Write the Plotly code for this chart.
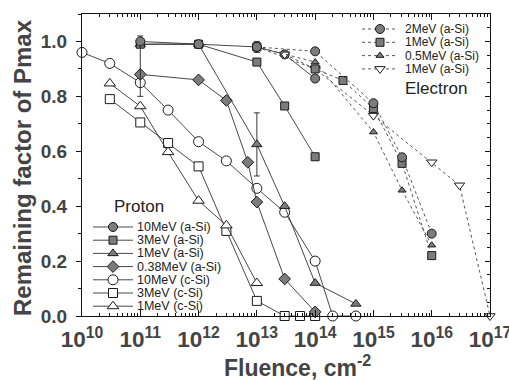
import plotly.graph_objects as go

# ---- Proton irradiation (solid lines) ----
p10_asi_x = [1e11, 1e12, 1e13, 3e13, 1e14]
p10_asi_y = [1.0, 0.99, 0.98, 0.953, 0.865]
p10_asi_ep = [0.02, 0, 0.02, 0, 0]
p10_asi_em = [0.20, 0, 0.02, 0, 0]

p3_asi_x = [1e11, 1e12, 1e13, 3e13, 1e14]
p3_asi_y = [0.99, 0.99, 0.925, 0.765, 0.58]

p1_asi_x = [1e11, 1e12, 1e13, 3e13, 1e14, 5e14]
p1_asi_y = [0.99, 0.99, 0.625, 0.40, 0.12, 0.044]
p1_asi_err = [0, 0, 0.115, 0, 0, 0]

p038_asi_x = [1e11, 1e12, 3e12, 7e12, 1e13, 3e13, 1e14]
p038_asi_y = [0.88, 0.86, 0.785, 0.56, 0.415, 0.135, 0.015]

p10_csi_x = [1e10, 3e10, 1e11, 3e11, 1e12, 3e12, 1e13, 3e13, 1e14, 2e14, 5e14]
p10_csi_y = [0.96, 0.92, 0.85, 0.75, 0.635, 0.565, 0.465, 0.378, 0.20, 0.0, 0.0]

p3_csi_x = [3e10, 1e11, 3e11, 1e12, 3e12, 1e13, 3e13, 5.5e13, 1e14]
p3_csi_y = [0.79, 0.705, 0.63, 0.545, 0.31, 0.055, 0.0, 0.0, 0.0]

p1_csi_x = [3e10, 1e11, 3e11, 1e12, 3e12, 1e13]
p1_csi_y = [0.847, 0.764, 0.597, 0.42, 0.33, 0.12]

# ---- Electron irradiation (dashed lines) ----
e2_x = [1e13, 1e14, 1e15, 3.1e15, 1e16]
e2_y = [0.98, 0.964, 0.775, 0.578, 0.30]

e1_x = [1e13, 1e14, 3e14, 1e15, 3.1e15, 1e16]
e1_y = [0.98, 0.90, 0.858, 0.756, 0.556, 0.22]

e05_x = [1e13, 1e14, 1e15, 3.1e15, 1e16]
e05_y = [0.98, 0.925, 0.67, 0.458, 0.258]

e1b_x = [3e13, 1e14, 1e15, 1e16, 3e16, 1e17]
e1b_y = [0.953, 0.90, 0.73, 0.56, 0.476, 0.0]

proton_labels = ["10MeV (a-Si)", "3MeV (a-Si)", "1MeV (a-Si)", "0.38MeV (a-Si)",
                 "10MeV (c-Si)", "3MeV (c-Si)", "1MeV (c-Si)"]
electron_labels = ["2MeV (a-Si)", "1MeV (a-Si)", "0.5MeV (a-Si)", "1MeV (a-Si)"]

FONT = "Arial, Liberation Sans, sans-serif"
LINE = "#333333"
HATCH = "#7c7c7c"

styles_p = [
    dict(symbol="circle", color=HATCH, size=9),
    dict(symbol="square", color=HATCH, size=8),
    dict(symbol="triangle-up", color=HATCH, size=9),
    dict(symbol="diamond", color=HATCH, size=9),
    dict(symbol="circle-open", color="white", size=10),
    dict(symbol="square-open", color="white", size=9),
    dict(symbol="triangle-up-open", color="white", size=10),
]
styles_e = [
    dict(symbol="circle", color=HATCH, size=9),
    dict(symbol="square", color=HATCH, size=8),
    dict(symbol="triangle-up", color=HATCH, size=7),
    dict(symbol="triangle-down-open", color="white", size=9),
]


def mk(st):
    sym = st["symbol"].replace("-open", "")
    return dict(symbol=sym, size=st["size"], color=st["color"],
                line=dict(color="#1a1a1a", width=1))


fig = go.Figure()

proton = [
    (p10_csi_x, p10_csi_y, 4, None),
    (p3_csi_x, p3_csi_y, 5, None),
    (p1_csi_x, p1_csi_y, 6, None),
    (p038_asi_x, p038_asi_y, 3, None),
    (p1_asi_x, p1_asi_y, 2, dict(type="data", array=p1_asi_err, visible=True)),
    (p3_asi_x, p3_asi_y, 1, None),
    (p10_asi_x, p10_asi_y, 0, dict(type="data", array=p10_asi_ep,
                                   arrayminus=p10_asi_em, symmetric=False, visible=True)),
]
for xs, ys, k, err in proton:
    tr = go.Scatter(x=xs, y=ys, mode="lines+markers", name=proton_labels[k],
                    line=dict(color=LINE, width=0.9), marker=mk(styles_p[k]),
                    showlegend=False, cliponaxis=False)
    if err is not None:
        err.update(color="#222", thickness=0.9, width=3)
        tr.error_y = err
    fig.add_trace(tr)

electron = [(e1b_x, e1b_y, 3), (e05_x, e05_y, 2), (e1_x, e1_y, 1), (e2_x, e2_y, 0)]
for xs, ys, k in electron:
    fig.add_trace(go.Scatter(x=xs, y=ys, mode="lines+markers", name=electron_labels[k],
                             line=dict(color="#444", width=0.9, dash="3px,3px"),
                             marker=mk(styles_e[k]), showlegend=False, cliponaxis=False))

# right-hand frame with its own inward ticks
fig.add_trace(go.Scatter(x=[1e10], y=[0], yaxis="y2", mode="markers",
                         marker=dict(opacity=0), showlegend=False, hoverinfo="skip"))

# ---- in-plot legends (drawn in plot-fraction coordinates) ----
p_rows = [227, 240.2, 253.4, 266.6, 279.8, 293, 306.2]
e_rows = [29, 42.3, 55.6, 68.9]


def fx(px):
    return (px - 82) / 408


def fy(py):
    return (316 - py) / 302


annotations = []
for i, lab in enumerate(proton_labels):
    yy = fy(p_rows[i])
    fig.add_trace(go.Scatter(x=[fx(93), fx(133)], y=[yy, yy], xaxis="x3", yaxis="y3",
                             mode="lines", line=dict(color=LINE, width=0.9),
                             showlegend=False, hoverinfo="skip"))
    fig.add_trace(go.Scatter(x=[fx(113)], y=[yy], xaxis="x3", yaxis="y3", mode="markers",
                             marker=mk(styles_p[i]), showlegend=False, hoverinfo="skip"))
    annotations.append(dict(x=fx(135), y=yy, xref="paper", yref="paper", text=lab,
                            showarrow=False, xanchor="left", yanchor="middle",
                            font=dict(family=FONT, size=12.5, color="#222")))
for i, lab in enumerate(electron_labels):
    yy = fy(e_rows[i])
    fig.add_trace(go.Scatter(x=[fx(362), fx(397)], y=[yy, yy], xaxis="x3", yaxis="y3",
                             mode="lines", line=dict(color="#444", width=0.9, dash="3px,3px"),
                             showlegend=False, hoverinfo="skip"))
    fig.add_trace(go.Scatter(x=[fx(380)], y=[yy], xaxis="x3", yaxis="y3", mode="markers",
                             marker=mk(styles_e[i]), showlegend=False, hoverinfo="skip"))
    annotations.append(dict(x=fx(403), y=yy, xref="paper", yref="paper", text=lab,
                            showarrow=False, xanchor="left", yanchor="middle",
                            font=dict(family=FONT, size=12, color="#222")))

annotations += [
    dict(x=fx(112), y=fy(206), xref="paper", yref="paper", text="Proton",
         showarrow=False, xanchor="left", yanchor="middle",
         font=dict(family=FONT, size=17, color="#222")),
    dict(x=fx(403), y=fy(88), xref="paper", yref="paper", text="Electron",
         showarrow=False, xanchor="left", yanchor="middle",
         font=dict(family=FONT, size=17, color="#222")),
    dict(x=fx(23), y=fy(168), xref="paper", yref="paper", text="<b>Remaining factor of Pmax</b>",
         showarrow=False, textangle=-90, xanchor="center", yanchor="middle",
         font=dict(family=FONT, size=24, color="#444")),
    dict(x=fx(297), y=fy(366), xref="paper", yref="paper",
         text="<b>Fluence, cm<sup>-2</sup></b>",
         showarrow=False, xanchor="center", yanchor="middle",
         font=dict(family=FONT, size=23, color="#444")),
]

axis_common = dict(showline=True, linecolor="#111", linewidth=1.2, showgrid=False,
                   zeroline=False, tickcolor="#111", automargin=False)
fig.update_layout(
    width=509, height=380,
    margin=dict(l=82, r=19, t=14, b=64),
    paper_bgcolor="white", plot_bgcolor="white",
    font=dict(family=FONT, color="#444"),
    xaxis=dict(type="log", range=[10, 17], dtick=1, exponentformat="power",
               ticks="inside", ticklen=6, mirror="ticks", ticklabelstandoff=4,
               ticklabeloverflow="allow",
               minor=dict(ticks="inside", ticklen=3, dtick="D1", tickcolor="#111"),
               tickfont=dict(family=FONT, size=18, color="#444", weight="bold"),
               **axis_common),
    yaxis=dict(range=[0, 1.1], tick0=0, dtick=0.2, tickformat=".1f",
               ticks="outside", ticklen=5, ticklabelstandoff=5,
               minor=dict(ticks="outside", ticklen=3, dtick=0.1, tickcolor="#111"),
               tickfont=dict(family=FONT, size=19, color="#444", weight="bold"),
               **axis_common),
    yaxis2=dict(range=[0, 1.1], overlaying="y", side="right", dtick=0.2,
                ticks="inside", ticklen=5, showticklabels=False,
                minor=dict(ticks="inside", ticklen=3, dtick=0.05, tickcolor="#111"),
                **axis_common),
    xaxis3=dict(overlaying="x", range=[0, 1], visible=False),
    yaxis3=dict(overlaying="y", range=[0, 1], visible=False),
    annotations=annotations,
)

fig.write_html("out.html")
